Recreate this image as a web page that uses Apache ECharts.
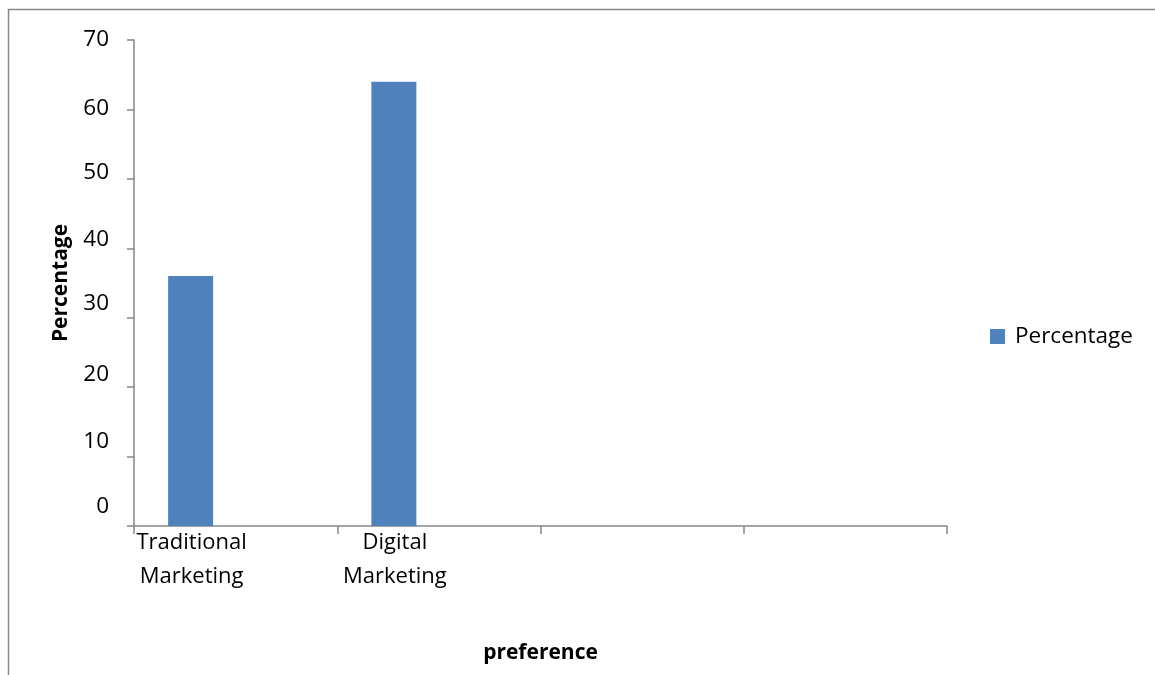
<!DOCTYPE html>
<html>
<head>
<meta charset="utf-8">
<script src="https://cdn.jsdelivr.net/npm/echarts@6/dist/echarts.min.js"></script>
<style>
  html, body { margin: 0; padding: 0; background: #fff; }
  #chart { width: 1155px; height: 675px; }
</style>
</head>
<body>
<div id="chart"></div>
<script>
// Categories along the x axis (the last two slots are left blank)
const categories = ['Traditional\nMarketing', 'Digital\nMarketing', '', ''];
// Share of respondents preferring each channel
const percentage = [36, 64, null, null];
// Two unused series that still take up slots in each category
const series2 = [null, null, null, null];
const series3 = [null, null, null, null];
// Value-axis range
const yMin = 0, yMax = 70, yStep = 10;

const FONT = '"Open Sans", Lato, sans-serif';
const AXIS_GREY = '#868686';
const BAR_BLUE = '#4F81BD';

// Upward nudge (px) of each value label relative to its tick
const labelLift = { 0: 19, 10: 15, 20: 13, 30: 14, 40: 9, 50: 6, 60: 1, 70: 0 };
const yRich = {};
Object.keys(labelLift).forEach(function (k) {
  yRich['v' + k] = {
    fontFamily: FONT, fontSize: 22.5, color: '#000',
    padding: [0, 0, labelLift[k] * 2, 0]
  };
});

const chart = echarts.init(document.getElementById('chart'), null, { renderer: 'canvas' });

chart.setOption({
  animation: false,
  backgroundColor: '#fff',
  textStyle: { fontFamily: FONT, color: '#000' },
  graphic: [{
    type: 'rect',
    shape: { x: 8.5, y: 9.5, width: 1300, height: 800 },
    style: { fill: 'none', stroke: '#878787', lineWidth: 1.5 },
    silent: true
  }],
  grid: { left: 134, right: 208, top: 40, bottom: 149, containLabel: false },
  legend: {
    data: ['Percentage'],
    left: 990, top: 325, padding: 0,
    icon: 'rect', itemWidth: 15, itemHeight: 15, itemGap: 8,
    textStyle: { fontFamily: FONT, fontSize: 22.5, color: '#000', padding: [0, 0, 0, 5] }
  },
  xAxis: {
    type: 'category',
    data: categories,
    name: 'preference',
    nameLocation: 'middle',
    nameGap: 117,
    nameTextStyle: { fontFamily: FONT, fontSize: 21, fontWeight: 'bold', color: '#000' },
    axisLine: { lineStyle: { color: AXIS_GREY, width: 1.5 } },
    axisTick: { show: true, length: 8, lineStyle: { color: AXIS_GREY, width: 1.5 } },
    axisLabel: {
      interval: 0, margin: 0, fontFamily: FONT, fontSize: 22, color: '#000',
      lineHeight: 34, align: 'center', padding: [0, 88, 0, 0]
    },
    splitLine: { show: false }
  },
  yAxis: {
    type: 'value',
    min: yMin, max: yMax, interval: yStep,
    name: 'Percentage',
    nameLocation: 'middle',
    nameGap: 62,
    nameTextStyle: { fontFamily: FONT, fontSize: 21, fontWeight: 'bold', color: '#000' },
    axisLine: { show: true, lineStyle: { color: AXIS_GREY, width: 1.5 } },
    axisTick: { show: true, length: 7, lineStyle: { color: AXIS_GREY, width: 1.5 } },
    axisLabel: {
      margin: 25, fontFamily: FONT, fontSize: 22.5, color: '#000',
      formatter: function (v) { return '{v' + v + '|' + v + '}'; },
      rich: yRich
    },
    splitLine: { show: false }
  },
  series: [
    { name: 'Percentage', type: 'bar', data: percentage, barWidth: 45, barGap: '0%',
      itemStyle: { color: BAR_BLUE } },
    { name: 'Series2', type: 'bar', data: series2, barWidth: 45, barGap: '0%' },
    { name: 'Series3', type: 'bar', data: series3, barWidth: 45, barGap: '0%' }
  ]
});
</script>
</body>
</html>
